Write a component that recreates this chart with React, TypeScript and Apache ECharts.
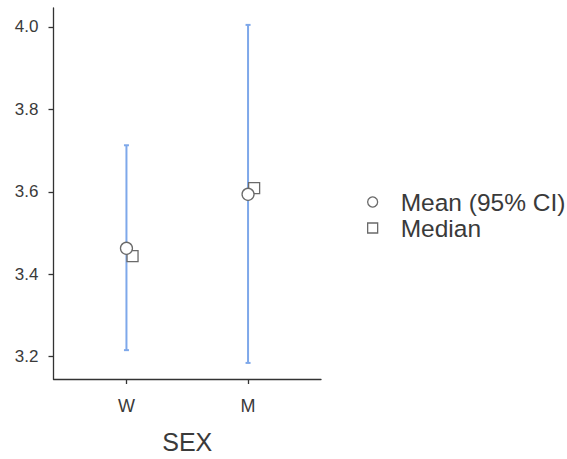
import React, { useEffect, useRef } from "react";
import * as echarts from "echarts";

const categories = ["W", "M"];
const catPositions = [1, 2];
const meanValues = [3.463, 3.594];
const ciLower = [3.216, 3.185];
const ciUpper = [3.713, 4.005];
const medianValues = [3.444, 3.609];
const yTicks = [3.2, 3.4, 3.6, 3.8, 4.0];

const FONT = "'Liberation Sans', Arial, Helvetica, sans-serif";
const BAR_COLOR = "#7ea8ea";
const MARK_BORDER = "#6a6a6a";
const TEXT = "#3a3a3a";
const AXIS = "#333333";
const MEDIAN_OFFSET = 0.05;

export default function App() {
  const ref = useRef<HTMLDivElement>(null);
  useEffect(() => {
    if (!ref.current) return;
    const chart = echarts.init(ref.current, null, { renderer: "svg" });
    const errData = catPositions.map((p, i) => [p, ciLower[i], ciUpper[i]]);
    const meanData = catPositions.map((p, i) => [p, meanValues[i]]);
    const medData = catPositions.map((p, i) => [p + MEDIAN_OFFSET, medianValues[i]]);
    chart.setOption({
      animation: false,
      grid: { left: 53.5, right: 246, top: 8, bottom: 73.5, containLabel: false },
      legend: {
        orient: "vertical",
        left: 367,
        top: 189.5,
        padding: 0,
        itemGap: 1,
        itemWidth: 10,
        itemHeight: 10,
        textStyle: {
          fontFamily: FONT,
          fontSize: 24.5,
          color: TEXT,
          padding: [0, 0, 0, 18],
        },
        data: [
          { name: "Mean (95% CI)", icon: "circle", itemStyle: { color: "#fff", borderColor: MARK_BORDER, borderWidth: 1.3 } },
          { name: "Median", icon: "rect", itemStyle: { color: "#fff", borderColor: MARK_BORDER, borderWidth: 1.3 } },
        ],
      },
      xAxis: {
        type: "value",
        min: 0.4,
        max: 2.6,
        name: "SEX",
        nameLocation: "middle",
        nameGap: 50,
        nameTextStyle: { fontFamily: FONT, fontSize: 25, color: TEXT },
        splitLine: { show: false },
        axisLine: { show: true, lineStyle: { color: AXIS, width: 1.3 } },
        axisTick: { show: true, length: 5, lineStyle: { color: AXIS, width: 1.3 }, customValues: catPositions },
        axisLabel: {
          fontFamily: FONT,
          fontSize: 18,
          color: TEXT,
          margin: 18,
          customValues: catPositions,
          formatter: (v: number) => {
            const idx = catPositions.indexOf(Math.round(v));
            return idx >= 0 ? categories[idx] : "";
          },
        },
      },
      yAxis: {
        type: "value",
        min: 3.146,
        max: 4.046,
        splitLine: { show: false },
        axisLine: { show: true, lineStyle: { color: AXIS, width: 1.3 } },
        axisTick: { show: true, length: 5, lineStyle: { color: AXIS, width: 1.3 }, customValues: yTicks },
        axisLabel: {
          fontFamily: FONT,
          fontSize: 17,
          color: TEXT,
          margin: 15,
          customValues: yTicks,
          formatter: (v: number) => v.toFixed(1),
        },
      },
      series: [
        {
          type: "custom",
          name: "CI",
          data: errData,
          z: 1,
          renderItem: (params: any, api: any) => {
            const x = api.value(0);
            const lo = api.coord([x, api.value(1)]);
            const hi = api.coord([x, api.value(2)]);
            const hw = 2.5;
            const style = { stroke: BAR_COLOR, lineWidth: 2 };
            return {
              type: "group",
              children: [
                { type: "line", shape: { x1: lo[0], y1: lo[1], x2: hi[0], y2: hi[1] }, style },
                { type: "line", shape: { x1: lo[0] - hw, y1: lo[1], x2: lo[0] + hw, y2: lo[1] }, style },
                { type: "line", shape: { x1: hi[0] - hw, y1: hi[1], x2: hi[0] + hw, y2: hi[1] }, style },
              ],
            };
          },
        },
        {
          type: "scatter",
          name: "Median",
          data: medData,
          symbol: "rect",
          symbolSize: 11,
          z: 3,
          itemStyle: { color: "#fff", borderColor: MARK_BORDER, borderWidth: 1.3, opacity: 1 },
        },
        {
          type: "scatter",
          name: "Mean (95% CI)",
          data: meanData,
          symbol: "circle",
          symbolSize: 12,
          z: 4,
          itemStyle: { color: "#fff", borderColor: MARK_BORDER, borderWidth: 1.3, opacity: 1 },
        },
      ],
    });
    return () => chart.dispose();
  }, []);
  return <div ref={ref} style={{ width: 567, height: 459, position: "absolute", left: 0, top: 0 }} />;
}
